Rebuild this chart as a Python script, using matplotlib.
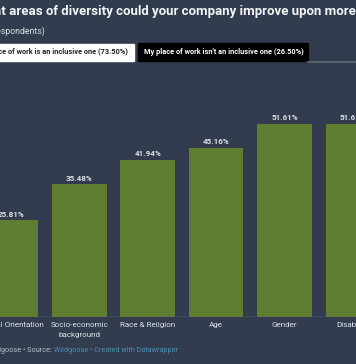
import matplotlib.pyplot as plt

# data (share of respondents, %)
categorias = ["Sexual Orientation", "Socio-economic\nbackground", "Race & Religion",
              "Age", "Gender", "Disability"]
valores = [25.81, 35.48, 41.94, 45.16, 51.61, 51.61]
rotulos = ["25.81%", "35.48%", "41.94%", "45.16%", "51.61%", "51.61%"]

fundo = "#323c4e"
verde = "#5e7d31"
texto = "#dde1e6"

W, H = 356, 364
fig = plt.figure(figsize=(W / 100, H / 100), dpi=100, facecolor=fundo)
rend = fig.canvas.get_renderer()

def px(x, y):
    return x / W, 1 - y / H

def largura(s, **kw):
    t = fig.text(0, 0, s, **kw)
    w = t.get_window_extent(rend).width
    t.remove()
    return w

# axes: baseline at y=317px, top at y=100px, 3.74 px per %
base, topo = 317, 100
ax = fig.add_axes([0, 1 - base / H, 1, (base - topo) / H])
ax.set_facecolor(fundo)
pos = list(range(len(valores)))
ax.bar(pos, valores, width=0.80, color=verde, zorder=2)
ax.set_ylim(0, (base - topo) / 3.74)
ax.set_xlim(-0.16, 5.045)
for s in ax.spines.values():
    s.set_visible(False)
ax.axhline(0, color="#6b7585", lw=1, zorder=3)
ax.set_yticks([])
ax.set_xticks(pos)
ax.set_xticklabels(categorias, color=texto, fontsize=5.8, family="Roboto",
                   linespacing=1.9, va="top")
ax.tick_params(axis="x", length=0, pad=3.5)
for p, v, r in zip(pos, valores, rotulos):
    ax.annotate(r, (p, v), xytext=(0, 2), textcoords="offset points",
                ha="center", va="bottom", color=texto, fontsize=5.8,
                fontweight="bold", family="Roboto")

# title and subtitle (cropped screenshot)
kw_t = dict(fontsize=9.5, fontweight="bold", family="Roboto")
desloc = largura("What", **kw_t)
x, y = px(6 - desloc, 11)
fig.text(x, y, "What areas of diversity could your company improve upon more?",
         color="#f2f4f6", va="center", ha="left", **kw_t)
x, y = px(45, 31)
fig.text(x, y, "(31 respondents)", color=texto, fontsize=6.3,
         family="Roboto", va="center", ha="right")

# toggle buttons
fig.patches.append(plt.Rectangle(px(-40, 61), 174 / W, 17 / H,
                                 transform=fig.transFigure, color="white"))
fig.patches.append(plt.Rectangle(px(138, 61), 170 / W, 18 / H,
                                 transform=fig.transFigure, color="black"))
fig.add_artist(plt.Line2D([308 / W, 1], [1 - 61.5 / H] * 2,
                          transform=fig.transFigure, color="#5c6470", lw=1.3))
x, y = px(128, 52.5)
fig.text(x, y, "My place of work is an inclusive one (73.50%)", color="#222222",
         fontsize=5.3, fontweight="bold", family="Roboto", va="center", ha="right")
x, y = px(144, 52)
fig.text(x, y, "My place of work isn't an inclusive one (26.50%)", color="white",
         fontsize=5.3, fontweight="bold", family="Roboto", va="center", ha="left")

# footer
x, y = px(54, 351)
fig.text(x, y, "Chart: Wildgoose \u2022 Source: ", color="#b8bec7",
         fontsize=5.2, family="Roboto", va="center", ha="right")
fig.text(x, y, "Wildgoose \u2022 Created with Datawrapper", color="#4f8bb3",
         fontsize=5.2, family="Roboto", va="center", ha="left")

fig.savefig("out.png", dpi=100, facecolor=fundo)
